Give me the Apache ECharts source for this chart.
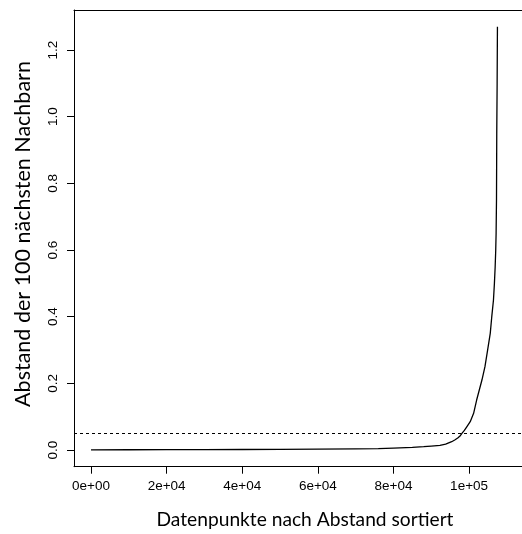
<!DOCTYPE html>
<html>
<head>
<meta charset="utf-8">
<script src="https://cdn.jsdelivr.net/npm/echarts@6/dist/echarts.min.js"></script>
<style>
  html, body { margin: 0; padding: 0; background: #fff; }
  #chart { width: 522px; height: 534px; }
</style>
</head>
<body>
<div id="chart"></div>
<script>
// Sorted distance to the 100 nearest neighbours (k-distance curve)
const pointIndex = [1, 10000, 20000, 30000, 40000, 50000, 60000, 70000, 76000, 80000,
  85000, 88000, 90000, 92300, 93800, 95400, 96200, 97000, 97600, 98100,
  98700, 99300, 100300, 101200, 102000, 102700, 103400, 104200, 104900, 105600,
  106000, 106450, 106700, 106900, 107050, 107150, 107250, 107320, 107420, 107500];
const neighbourDist = [0.0005, 0.0008, 0.001, 0.0013, 0.0016, 0.002, 0.003, 0.0035, 0.004, 0.006,
  0.008, 0.010, 0.012, 0.014, 0.018, 0.025, 0.030, 0.036, 0.042, 0.050,
  0.058, 0.068, 0.085, 0.11, 0.15, 0.18, 0.21, 0.25, 0.30, 0.35,
  0.40, 0.45, 0.50, 0.55, 0.60, 0.65, 0.75, 0.95, 1.10, 1.27];

// Horizontal reference threshold (eps)
const epsThreshold = 0.05;

// Axis ticks and labels
const xTickValues = [0, 20000, 40000, 60000, 80000, 100000];
const xTickLabels = ['0e+00', '2e+04', '4e+04', '6e+04', '8e+04', '1e+05'];
const yTickValues = [0, 0.2, 0.4, 0.6, 0.8, 1.0, 1.2];
const yTickLabels = ['0.0', '0.2', '0.4', '0.6', '0.8', '1.0', '1.2'];

const xTitle = 'Datenpunkte nach Abstand sortiert';
const yTitle = 'Abstand der 100 nächsten Nachbarn';

const curve = pointIndex.map((x, i) => [x, neighbourDist[i]]);

const chart = echarts.init(document.getElementById('chart'), null, { renderer: 'canvas' });

const tickFont = { fontFamily: 'Liberation Sans, Arial, sans-serif', fontSize: 13.5, color: '#000' };
const titleFamily = 'Lato, "Open Sans", sans-serif';
const frameLine = { show: true, onZero: false, lineStyle: { color: '#000', width: 1 } };

chart.setOption({
  animation: false,
  backgroundColor: '#fff',
  grid: {
    left: 74, top: 10, width: 462, height: 456.7,
    show: false, outerBoundsMode: 'none'
  },
  xAxis: [{
    type: 'value',
    position: 'bottom',
    min: -4500, max: 117700,
    axisLine: frameLine,
    splitLine: { show: false },
    axisTick: { show: true, length: 7, customValues: xTickValues, lineStyle: { color: '#000', width: 1 } },
    axisLabel: {
      customValues: xTickValues, margin: 13,
      formatter: v => xTickLabels[xTickValues.indexOf(v)],
      ...tickFont
    },
    name: xTitle, nameLocation: 'middle', nameGap: 44,
    nameTextStyle: { fontFamily: titleFamily, fontSize: 19.2, color: '#000' }
  }, {
    // upper edge of the plot frame
    type: 'value',
    position: 'top',
    min: -4500, max: 117700,
    axisLine: frameLine,
    splitLine: { show: false },
    axisTick: { show: false },
    axisLabel: { show: false }
  }],
  yAxis: {
    type: 'value',
    min: -0.05, max: 1.32,
    axisLine: frameLine,
    splitLine: { show: false },
    axisTick: { show: true, length: 7, customValues: yTickValues, lineStyle: { color: '#000', width: 1 } },
    axisLabel: {
      customValues: yTickValues, rotate: 90, margin: 14,
      formatter: v => yTickLabels[yTickValues.findIndex(t => Math.abs(t - v) < 1e-9)],
      ...tickFont
    }
  },
  graphic: [{
    type: 'text',
    x: 23, y: 234,
    rotation: Math.PI / 2,
    style: {
      text: yTitle,
      fontFamily: titleFamily, fontSize: 21.5, fill: '#000',
      align: 'center', verticalAlign: 'middle'
    }
  }],
  series: [{
    type: 'line',
    xAxisIndex: 0,
    data: curve,
    showSymbol: false,
    smooth: false,
    lineStyle: { color: '#000', width: 1.3 },
    clip: true,
    markLine: {
      silent: true,
      symbol: ['none', 'none'],
      label: { show: false },
      lineStyle: { color: '#000', width: 1, type: [3, 3] },
      data: [{ yAxis: epsThreshold }]
    }
  }]
});
</script>
</body>
</html>
